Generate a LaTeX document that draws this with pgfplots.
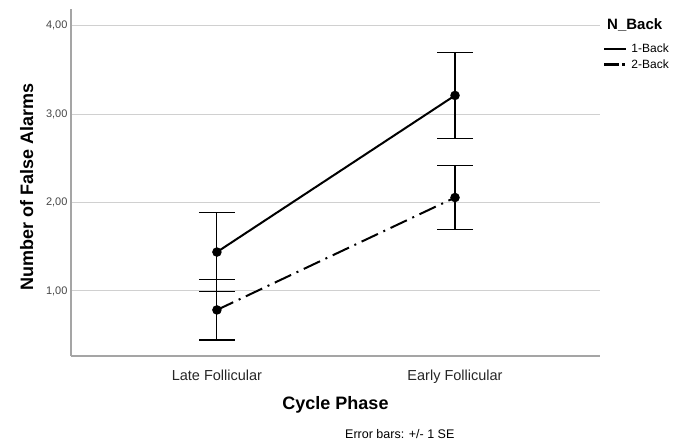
\documentclass[border=0pt]{standalone}
\usepackage{fontspec}
\setmainfont{Liberation Sans}
\usepackage{pgfplots}
\pgfplotsset{compat=1.18}
\definecolor{gridgray}{RGB}{208,208,208}
\definecolor{axisgray}{RGB}{165,165,165}
\definecolor{ticktext}{RGB}{70,70,70}

\begin{document}
\begin{tikzpicture}[x=1bp,y=1bp]
\useasboundingbox (0,0) rectangle (683,442);
\begin{axis}[
  at={(71bp,86bp)}, anchor=south west,
  scale only axis, width=529bp, height=347bp,
  xmin=0.387, xmax=2.609, ymin=0.264, ymax=4.19,
  axis x line=bottom, axis y line=left,
  axis line style={axisgray, line width=1.5bp, -},
  xtick={1,2}, xticklabels={Late Follicular, Early Follicular},
  ytick={1,2,3,4},
  major tick length=0pt,
  ymajorgrids, grid style={gridgray, line width=1bp},
  /pgf/number format/assume math mode=true,
  yticklabel style={/pgf/number format/.cd, fixed, fixed zerofill, precision=2, use comma, /tikz/.cd,
    font=\fontsize{11bp}{13bp}\selectfont, text=ticktext},
  xticklabel style={font=\fontsize{14.5bp}{16bp}\selectfont, text=black!85, anchor=base, yshift=-24.5bp},
  xlabel={Cycle Phase},
  xlabel style={at={(axis description cs:0.5,-0.1556)}, anchor=base, font=\bfseries\fontsize{18bp}{20bp}\selectfont},
  ylabel={Number of False Alarms},
  ylabel style={at={(axis description cs:-0.0718,0.486)}, anchor=base, font=\bfseries\fontsize{18bp}{20bp}\selectfont},
  clip=false,
  legend style={at={(axis description cs:1.0057,0.905)}, anchor=north west, draw=none, fill=none,
    inner sep=0pt, font=\fontsize{12bp}{14bp}\selectfont, row sep=1bp},
  legend cell align=left,
  legend image code/.code={\draw[#1] (0bp,0bp) -- (22bp,0bp); \path (24bp,0bp);},
]
\addplot[black, line width=2bp, mark=*, mark size=3.7bp, mark options={solid, fill=black},
  legend image code/.code={\draw[black, line width=2.4bp] (0bp,0bp) -- (22bp,0bp); \path (24bp,0bp);},
  error bars/.cd, y dir=both, y explicit,
  error bar style={solid, line width=1.1bp, black},
  error mark options={rotate=90, mark size=18bp, line width=1.1bp, solid, black}]
  coordinates {(1,1.44) +- (0,0.45) (2,3.212) +- (0,0.49)};
\addlegendentry{1-Back}
\addplot[black, line width=2bp, dash pattern=on 18bp off 6bp on 2bp off 6bp, mark=*, mark size=3.7bp, mark options={solid, fill=black},
  legend image code/.code={\draw[black, line width=2.4bp, dash pattern=on 15bp off 3bp on 2.5bp off 10bp] (0bp,0bp) -- (22bp,0bp); \path (24bp,0bp);},
  error bars/.cd, y dir=both, y explicit,
  error bar style={solid, line width=1.1bp, black},
  error mark options={rotate=90, mark size=18bp, line width=1.1bp, solid, black}]
  coordinates {(1,0.785) +- (0,0.34) (2,2.057) +- (0,0.365)};
\addlegendentry{2-Back}
\node[anchor=west, inner sep=0pt, font=\bfseries\fontsize{15bp}{17bp}\selectfont]
  at (axis description cs:1.0132,0.9539) {N\_Back};
\node[anchor=base west, inner sep=0pt, font=\fontsize{12.5bp}{14bp}\selectfont]
  at (axis description cs:0.518,-0.2392) {Error bars: +/- 1 SE};
\end{axis}
\end{tikzpicture}
\end{document}
